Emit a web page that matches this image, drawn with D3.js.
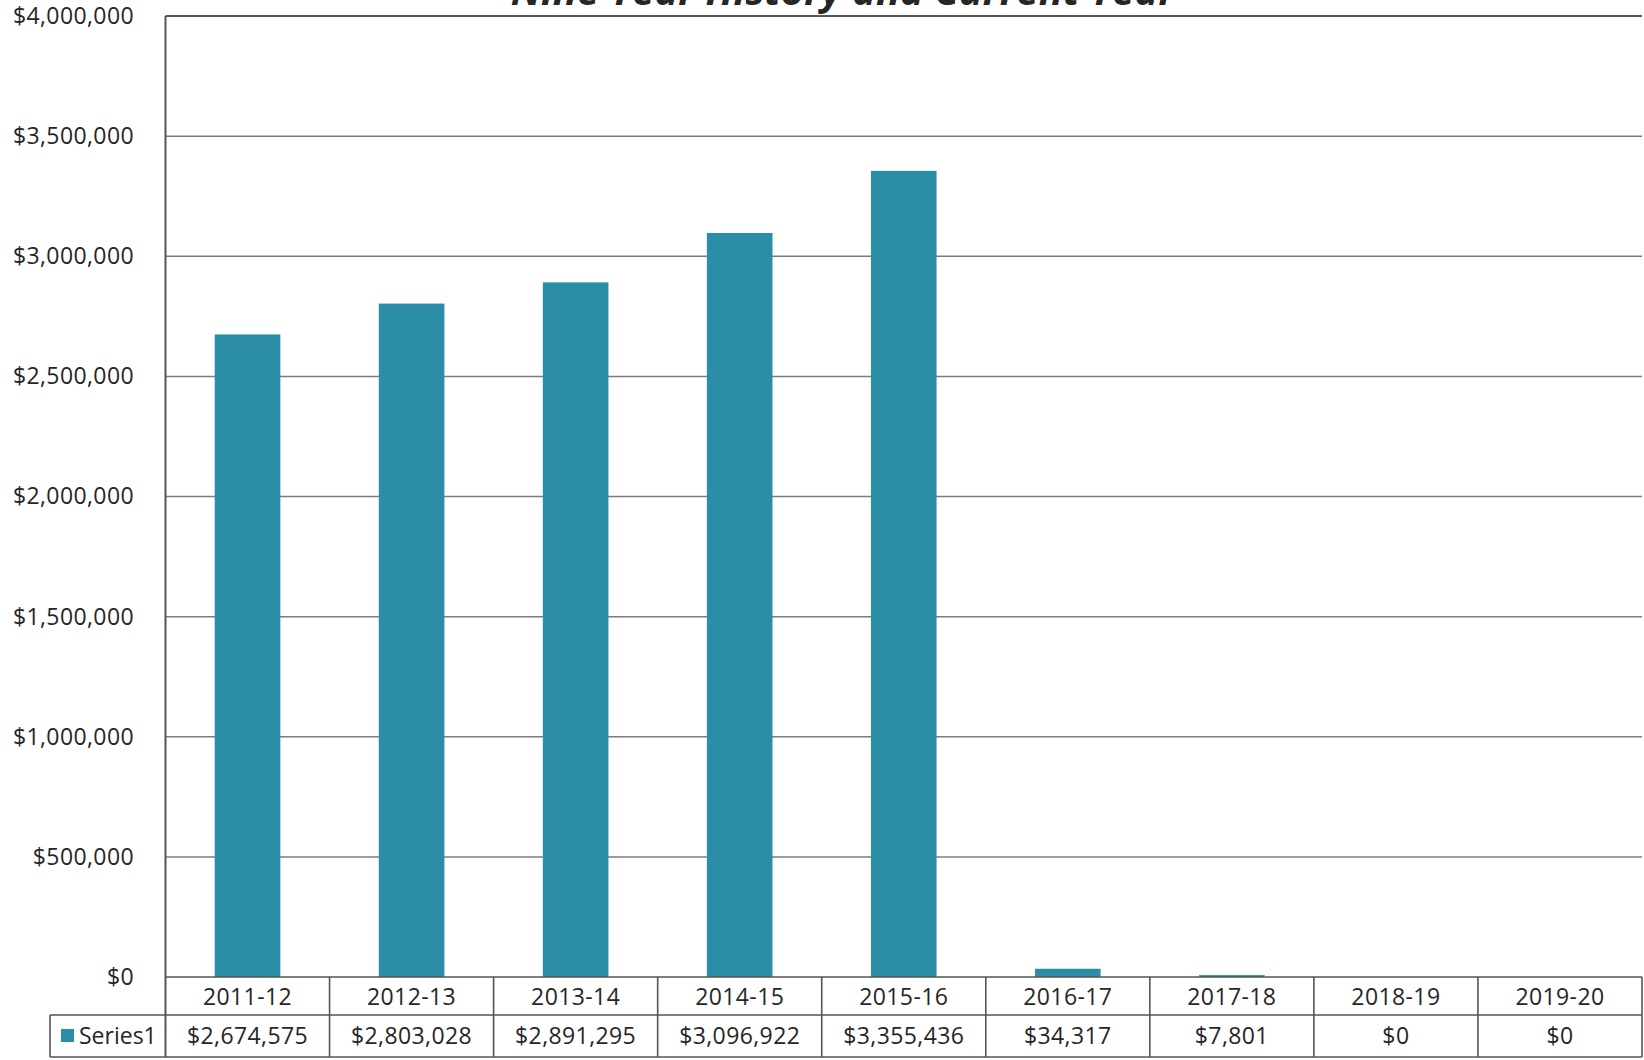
<!DOCTYPE html>
<html>
<head>
<meta charset="utf-8">
<script src="https://cdn.jsdelivr.net/npm/d3@7"></script>
<style>
  html, body { margin: 0; padding: 0; background: #fff; }
  svg { display: block; }
  text { font-family: "Open Sans", "Liberation Sans", sans-serif; fill: #262626; }
</style>
</head>
<body>
<svg id="chart" width="1644" height="1060"></svg>
<script>
// Fiscal years and amounts
const categories = ["2011-12", "2012-13", "2013-14", "2014-15", "2015-16", "2016-17", "2017-18", "2018-19", "2019-20"];
const values = [2674575, 2803028, 2891295, 3096922, 3355436, 34317, 7801, 0, 0];
const seriesName = "Series1";
const yTicks = [0, 500000, 1000000, 1500000, 2000000, 2500000, 3000000, 3500000, 4000000];
const title = "Nine Year History and Current Year";

const W = 1644, H = 1060;
const plot = { left: 165.5, right: 1642, top: 16, bottom: 977 };
const rowH = [977, 1015, 1057];   // data table row edges
const legendLeft = 50;
const barColor = "#2b8ea6";
const gridColor = "#7d7d7d";
const tableColor = "#555";
const fontSize = "23px";

const svg = d3.select("#chart");
const money = d3.format("$,");

const y = d3.scaleLinear().domain([0, 4000000]).range([plot.bottom, plot.top]);
const cell = d3.scaleBand().domain(categories).range([plot.left, plot.right]);
const bar = d3.scaleBand().domain(categories).range([plot.left, plot.right])
  .paddingInner(0.6).paddingOuter(0.3);

// Title (runs off the top edge of the page)
svg.append("text")
  .attr("x", 843).attr("y", 5)
  .attr("text-anchor", "middle")
  .style("font-size", "40px").style("font-weight", "bold").style("font-style", "italic")
  .text(title);

// Horizontal gridlines
svg.append("g").selectAll("line").data(yTicks.filter(d => d > 0)).join("line")
  .attr("x1", plot.left).attr("x2", plot.right)
  .attr("y1", d => y(d)).attr("y2", d => y(d))
  .attr("stroke", d => d === 4000000 ? "#555" : gridColor)
  .attr("stroke-width", d => d === 4000000 ? 2 : 1.5);

// Y axis labels
const yAxis = d3.axisLeft(y).tickValues(yTicks).tickFormat(money).tickSize(0).tickPadding(0);
const gy = svg.append("g").attr("transform", `translate(${134},0)`).call(yAxis);
gy.select(".domain").remove();
gy.selectAll("text").style("font-size", fontSize).style("letter-spacing", "0.4px")
  .attr("fill", "#2a2a2a").style("font-family", "'Open Sans', sans-serif");

// Bars
svg.append("g").selectAll("rect").data(categories).join("rect")
  .attr("x", d => bar(d))
  .attr("width", bar.bandwidth())
  .attr("y", (d, i) => y(values[i]))
  .attr("height", (d, i) => y(0) - y(values[i]))
  .attr("fill", barColor);

// Data table
const table = svg.append("g").attr("stroke", tableColor).attr("stroke-width", 1.6);
table.append("line").attr("x1", plot.left).attr("x2", plot.right).attr("y1", rowH[0]).attr("y2", rowH[0]);
table.append("line").attr("x1", legendLeft).attr("x2", plot.right).attr("y1", rowH[1]).attr("y2", rowH[1]);
table.append("line").attr("x1", legendLeft).attr("x2", plot.right).attr("y1", rowH[2]).attr("y2", rowH[2]);
// left axis line
table.append("line").attr("x1", plot.left).attr("x2", plot.left).attr("y1", plot.top).attr("y2", rowH[2])
  .attr("stroke", "#555").attr("stroke-width", 2);
table.append("line").attr("x1", legendLeft).attr("x2", legendLeft).attr("y1", rowH[1]).attr("y2", rowH[2]);
table.selectAll(".col").data(categories).join("line").attr("class", "col")
  .attr("x1", d => cell(d) + cell.bandwidth()).attr("x2", d => cell(d) + cell.bandwidth())
  .attr("y1", rowH[0]).attr("y2", rowH[2]);

const txt = svg.append("g").style("font-size", fontSize).style("letter-spacing", "0.4px")
  .attr("text-anchor", "middle");
txt.selectAll(".cat").data(categories).join("text").attr("class", "cat")
  .attr("x", d => cell(d) + cell.bandwidth() / 2)
  .attr("y", (rowH[0] + rowH[1]) / 2 + 1).attr("dy", "0.36em")
  .text(d => d);
txt.selectAll(".val").data(categories).join("text").attr("class", "val")
  .attr("x", d => cell(d) + cell.bandwidth() / 2)
  .attr("y", (rowH[1] + rowH[2]) / 2).attr("dy", "0.36em")
  .text((d, i) => money(values[i]));

// Legend key in the table
svg.append("rect").attr("x", 61).attr("y", (rowH[1] + rowH[2]) / 2 - 7).attr("width", 13).attr("height", 13)
  .attr("fill", barColor);
svg.append("text").attr("x", 79).attr("y", (rowH[1] + rowH[2]) / 2).attr("dy", "0.36em")
  .style("font-size", fontSize).text(seriesName);
</script>
</body>
</html>
